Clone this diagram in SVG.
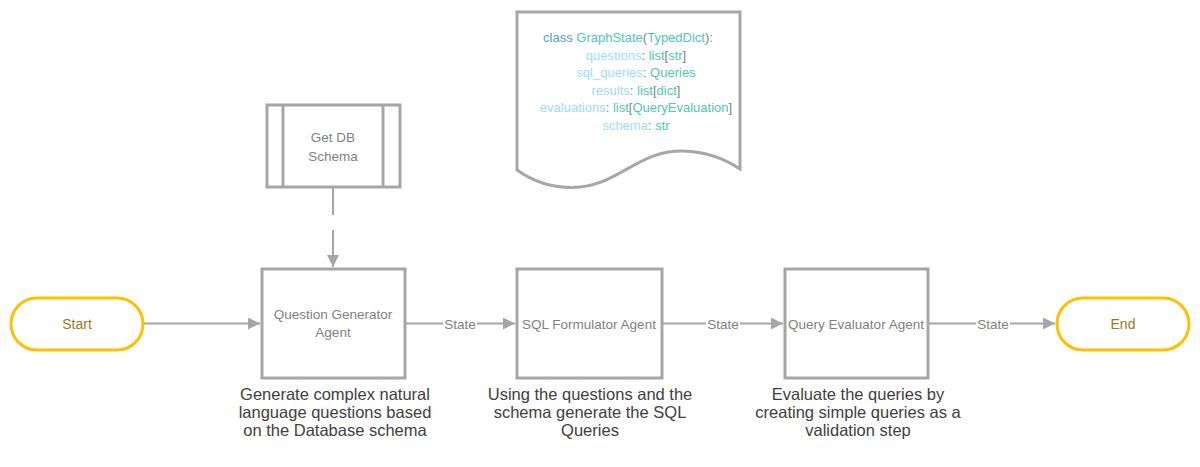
<svg xmlns="http://www.w3.org/2000/svg" width="1200" height="467" viewBox="0 0 1200 467">
<style>
.box{fill:#fff;stroke:#A6A6A6;stroke-width:3}
.term{fill:#fff;stroke:#FFC000;stroke-width:3}
.conn{fill:none;stroke:#A6A6A6;stroke-width:2}
.nt{font-family:"Liberation Sans",Arial,sans-serif;font-size:13.5px;fill:#7F7F7F;text-anchor:middle}
.tt{font-family:"Liberation Sans",Arial,sans-serif;font-size:14px;fill:#9C7A1E;text-anchor:middle}
.lbl{font-family:"Liberation Sans",Arial,sans-serif;font-size:13.5px;fill:#7F7F7F;text-anchor:middle}
.desc{font-family:"Liberation Sans",Arial,sans-serif;font-size:16.5px;fill:#404040;text-anchor:middle}
.code{font-family:"Liberation Sans",Arial,sans-serif;font-size:13px;fill:#808080;text-anchor:middle}
.k{fill:#569CD6}.t{fill:#4EC9B0}.v{fill:#9CDCFE}
</style>
<defs>
<marker id="ah" viewBox="0 0 10 10" refX="10" refY="5" markerWidth="6" markerHeight="6" orient="auto" markerUnits="strokeWidth">
<path d="M0,0 L10,5 L0,10 z" fill="#A6A6A6"/>
</marker>
</defs>
<g id="state-doc">
<path class="box" d="M517,12 L740,12 L740,169 Q715,152 683,151 C640,150 620,183 580,187 Q545,190 517,170 Z"/>
<text class="code" x="628" y="42"><tspan class="k">class</tspan> <tspan class="t">GraphState</tspan>(<tspan class="t">TypedDict</tspan>):</text>
<text class="code" x="636" y="59.5"><tspan class="v">questions</tspan>: <tspan class="t">list</tspan>[<tspan class="t">str</tspan>]</text>
<text class="code" x="636" y="77"><tspan class="v">sql_queries</tspan>: <tspan class="t">Queries</tspan></text>
<text class="code" x="636" y="94.5"><tspan class="v">results</tspan>: <tspan class="t">list</tspan>[<tspan class="t">dict</tspan>]</text>
<text class="code" x="636" y="112"><tspan class="v">evaluations</tspan>: <tspan class="t">list</tspan>[<tspan class="t">QueryEvaluation</tspan>]</text>
<text class="code" x="636" y="129.5"><tspan class="v">schema</tspan>: <tspan class="t">str</tspan></text>
</g>
<g id="get-db-schema">
<rect class="box" x="267" y="105" width="133" height="82"/>
<line class="box" x1="283" y1="105" x2="283" y2="187"/>
<line class="box" x1="383" y1="105" x2="383" y2="187"/>
<text class="nt" x="333" y="142">Get DB</text>
<text class="nt" x="333" y="161">Schema</text>
</g>
<g id="start">
<rect class="term" x="11" y="298" width="132" height="52" rx="26"/>
<text class="tt" x="77" y="329">Start</text>
</g>
<g id="question-generator">
<rect class="box" x="262" y="269" width="143" height="109"/>
<text class="nt" x="333" y="319">Question Generator</text>
<text class="nt" x="333" y="337">Agent</text>
</g>
<g id="sql-formulator">
<rect class="box" x="517" y="269" width="145" height="109"/>
<text class="nt" x="589" y="328.5">SQL Formulator Agent</text>
</g>
<g id="query-evaluator">
<rect class="box" x="785" y="269" width="143" height="109"/>
<text class="nt" x="856" y="328.5">Query Evaluator Agent</text>
</g>
<g id="end">
<rect class="term" x="1057" y="298" width="132" height="52" rx="26"/>
<text class="tt" x="1123" y="329">End</text>
</g>
<g id="connectors">
<path class="conn" d="M333,188 L333,215"/>
<path class="conn" d="M333,230 L333,267" marker-end="url(#ah)"/>
<path class="conn" d="M144,323.5 L260,323.5" marker-end="url(#ah)"/>
<path class="conn" d="M406,323.5 L443,323.5 M477,323.5 L515,323.5" marker-end="url(#ah)"/>
<text class="lbl" x="460" y="328.5">State</text>
<path class="conn" d="M663,323.5 L706,323.5 M740,323.5 L783,323.5" marker-end="url(#ah)"/>
<text class="lbl" x="723" y="328.5">State</text>
<path class="conn" d="M929,323.5 L976,323.5 M1010,323.5 L1055,323.5" marker-end="url(#ah)"/>
<text class="lbl" x="993" y="328.5">State</text>
</g>
<g id="descriptions">
<text class="desc" x="335" y="400">Generate complex natural</text>
<text class="desc" x="335" y="418">language questions based</text>
<text class="desc" x="335" y="436">on the Database schema</text>
<text class="desc" x="590" y="400">Using the questions and the</text>
<text class="desc" x="590" y="418">schema generate the SQL</text>
<text class="desc" x="590" y="436">Queries</text>
<text class="desc" x="858" y="400">Evaluate the queries by</text>
<text class="desc" x="858" y="418">creating simple queries as a</text>
<text class="desc" x="858" y="436">validation step</text>
</g>
</svg>
